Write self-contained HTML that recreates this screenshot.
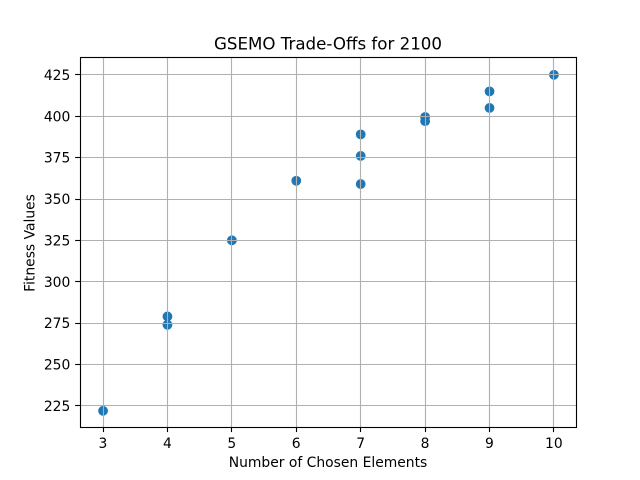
<!DOCTYPE html>
<html>
<head>
<meta charset="utf-8">
<style>
html,body{margin:0;padding:0;background:#fff;}
svg{display:block;}
text{font-family:"DejaVu Sans",sans-serif;fill:#000;}
</style>
</head>
<body>
<svg id="chart" xmlns="http://www.w3.org/2000/svg" width="640" height="480" viewBox="0 0 640 480">
<rect x="0" y="0" width="640" height="480" fill="#ffffff"/>
<text x="328" y="49.3" font-size="16.67px" text-anchor="middle">GSEMO Trade-Offs for 2100</text>
<text x="328" y="467" font-size="13.89px" text-anchor="middle">Number of Chosen Elements</text>
<text x="0" y="0" font-size="13.89px" text-anchor="middle" transform="translate(34.5,243) rotate(-90)">Fitness Values</text>
<g id="points"></g>
<g id="grid"></g>
<g id="ticks"></g>
<g id="spines"></g>
</svg>
<script>
const xValues = [3, 4, 4, 5, 6, 7, 7, 7, 8, 8, 9, 9, 10];
const yValues = [222, 274, 279, 325, 361, 359, 376, 389, 397, 399.5, 405, 415, 425];
const xTickLabels = [3, 4, 5, 6, 7, 8, 9, 10];
const yTickLabels = [225, 250, 275, 300, 325, 350, 375, 400, 425];

const NS = 'http://www.w3.org/2000/svg';
const left = 80, right = 576, top_ = 57.6, bottom = 427.2;
const xMin = 2.65, xMax = 10.35, yMin = 211.85, yMax = 435.15;

function xScale(v) { return left + (v - xMin) / (xMax - xMin) * (right - left); }
function yScale(v) { return bottom - (v - yMin) / (yMax - yMin) * (bottom - top_); }
function snap(p) { return Math.round(p) + 0.5; }

function make(tag, parent, attrs) {
  const el = document.createElementNS(NS, tag);
  for (const k in attrs) el.setAttribute(k, attrs[k]);
  parent.appendChild(el);
  return el;
}

const pointsG = document.getElementById('points');
const gridG = document.getElementById('grid');
const ticksG = document.getElementById('ticks');
const spinesG = document.getElementById('spines');

xValues.forEach(function (x, i) {
  const c = make('circle', pointsG, { cx: xScale(x) + 0.5, cy: yScale(yValues[i]) + 0.4, r: 4.9, fill: '#1f77b4' });
  
  
});

xTickLabels.forEach(function (t) {
  const p = snap(xScale(t));
  const g = make('line', gridG, { x1: p, x2: p, y1: top_, y2: bottom, stroke: '#b0b0b0', 'stroke-width': 1.11 });
  
  
  const m = make('line', ticksG, { x1: p, x2: p, y1: bottom, y2: bottom + 4.86, stroke: '#000', 'stroke-width': 1.11 });
  
  
  const l = make('text', ticksG, { x: xScale(t) + 0.4, y: 448, 'font-size': '13.89px', 'text-anchor': 'middle' });
  l.textContent = t;
  
  
});

yTickLabels.forEach(function (t) {
  const p = snap(yScale(t));
  const g = make('line', gridG, { x1: left, x2: right, y1: p, y2: p, stroke: '#b0b0b0', 'stroke-width': 1.11 });
  
  
  const m = make('line', ticksG, { x1: left - 4.86, x2: left, y1: p, y2: p, stroke: '#000', 'stroke-width': 1.11 });
  
  
  const l = make('text', ticksG, { x: 70.3, y: yScale(t) + 5.5, 'font-size': '13.89px', 'text-anchor': 'end' });
  l.textContent = t;
  
  
});

const frame = make('rect', spinesG, { x: left + 0.5, y: 57.5, width: right - left, height: 370, fill: 'none', stroke: '#000', 'stroke-width': 1.11 });


</script>
</body>
</html>
